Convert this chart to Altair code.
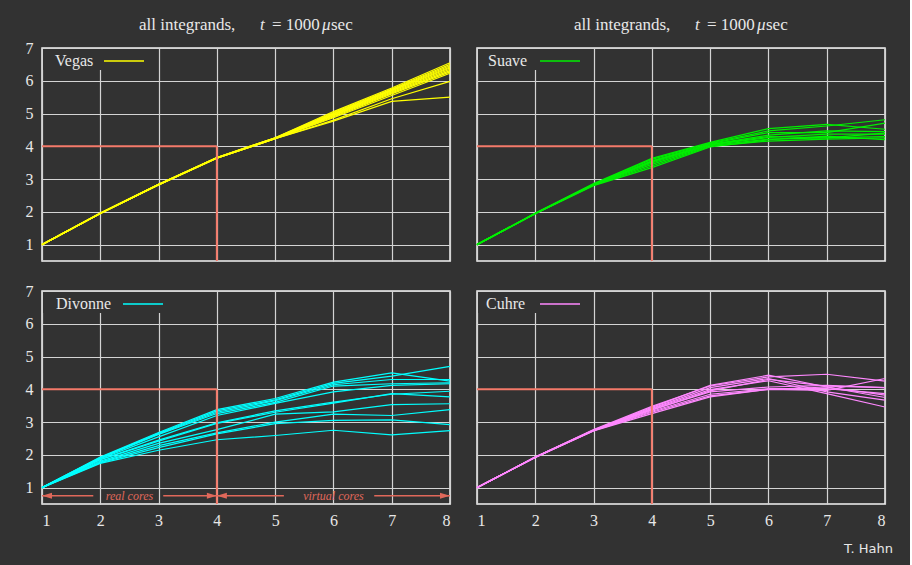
import altair as alt
import pandas as pd

# ---------------------------------------------------------------- data
cores = [1, 2, 3, 4, 5, 6, 7, 8]
y_ticks = [1, 2, 3, 4, 5, 6, 7]

# speed-up per integrand, one list per test integrand (values at 1..8 cores)
vegas = [
    [1, 1.96, 2.84, 3.66, 4.26, 5.06, 5.78, 6.55],
    [1, 1.96, 2.84, 3.66, 4.26, 5.03, 5.75, 6.50],
    [1, 1.96, 2.84, 3.66, 4.25, 5.01, 5.73, 6.46],
    [1, 1.95, 2.83, 3.65, 4.25, 4.99, 5.71, 6.42],
    [1, 1.95, 2.83, 3.65, 4.25, 4.97, 5.69, 6.39],
    [1, 1.95, 2.83, 3.65, 4.24, 4.95, 5.66, 6.35],
    [1, 1.95, 2.83, 3.65, 4.24, 4.93, 5.63, 6.31],
    [1, 1.95, 2.83, 3.64, 4.24, 4.90, 5.60, 6.27],
    [1, 1.95, 2.82, 3.64, 4.23, 4.87, 5.55, 6.23],
    [1, 1.95, 2.82, 3.64, 4.23, 4.80, 5.45, 5.98],
    [1, 1.95, 2.82, 3.64, 4.23, 4.77, 5.37, 5.50],
]
suave = [
    [1, 1.96, 2.86, 3.63, 4.12, 4.54, 4.67, 4.52],
    [1, 1.96, 2.85, 3.60, 4.10, 4.47, 4.62, 4.81],
    [1, 1.95, 2.84, 3.56, 4.08, 4.42, 4.42, 4.71],
    [1, 1.95, 2.84, 3.52, 4.06, 4.34, 4.47, 4.45],
    [1, 1.95, 2.83, 3.49, 4.04, 4.27, 4.37, 4.37],
    [1, 1.95, 2.82, 3.45, 4.02, 4.22, 4.26, 4.30],
    [1, 1.94, 2.81, 3.40, 4.00, 4.16, 4.22, 4.26],
    [1, 1.94, 2.80, 3.35, 3.98, 4.20, 4.31, 4.20],
    [1, 1.95, 2.83, 3.54, 4.05, 4.30, 4.26, 4.40],
]
divonne = [
    [1, 1.93, 2.68, 3.38, 3.72, 4.22, 4.50, 4.25],
    [1, 1.92, 2.66, 3.34, 3.68, 4.18, 4.40, 4.70],
    [1, 1.91, 2.64, 3.30, 3.65, 4.14, 4.30, 4.30],
    [1, 1.90, 2.62, 3.26, 3.60, 4.10, 4.17, 4.20],
    [1, 1.88, 2.55, 3.20, 3.57, 3.92, 4.12, 4.17],
    [1, 1.86, 2.45, 2.98, 3.34, 3.61, 3.85, 3.94],
    [1, 1.85, 2.42, 2.96, 3.30, 3.58, 3.87, 3.77],
    [1, 1.81, 2.35, 2.77, 3.24, 3.31, 3.53, 3.56],
    [1, 1.78, 2.28, 2.67, 3.00, 3.24, 3.20, 3.38],
    [1, 1.76, 2.22, 2.64, 2.95, 3.05, 3.07, 2.92],
    [1, 1.74, 2.14, 2.46, 2.59, 2.75, 2.61, 2.74],
]
cuhre = [
    [1, 1.93, 2.77, 3.48, 4.10, 4.38, 4.46, 4.25],
    [1, 1.93, 2.76, 3.45, 4.12, 4.43, 4.07, 3.82],
    [1, 1.93, 2.76, 3.42, 4.05, 4.33, 3.92, 3.67],
    [1, 1.93, 2.75, 3.40, 3.99, 4.26, 3.87, 3.46],
    [1, 1.93, 2.75, 3.38, 3.92, 4.07, 4.12, 4.05],
    [1, 1.92, 2.74, 3.33, 3.85, 4.02, 4.02, 3.87],
    [1, 1.92, 2.74, 3.30, 3.80, 4.00, 3.97, 4.33],
    [1, 1.92, 2.73, 3.26, 3.77, 4.00, 4.07, 3.75],
    [1, 1.93, 2.75, 3.36, 3.95, 4.30, 4.10, 4.05],
]

# number of real (physical) cores and the ideal speed-up they bound
real_cores = 4

# ---------------------------------------------------------------- style
BG = "#323232"
GRID = "#d4d4d4"
FRAME = "#f4f4f4"
TXT = "#e8e8e8"
SALMON = "#f47a6a"
ARROW = "#e0685a"
SERIF = "Liberation Serif"

W, H = 408, 213
xs = alt.Scale(domain=[1, 8], nice=False, zero=False)
ys = alt.Scale(domain=[0.5, 7], nice=False, zero=False)

one_row = alt.Data(values=[{}])


def long_table(series):
    rows = []
    for k, s in enumerate(series):
        for c, v in zip(cores, s):
            rows.append({"integrand": k, "cores": c, "speedup": v})
    return pd.DataFrame(rows)


def axes(show_x, show_y):
    common = dict(ticks=False, domain=False, grid=True, gridColor=GRID,
                  gridWidth=1.2, labelFont=SERIF, labelFontSize=16,
                  labelColor=TXT, title=None)
    ax = alt.Axis(values=cores, labels=show_x, labelPadding=8, **common)
    ay = alt.Axis(values=y_ticks, labels=show_y, labelPadding=9, **common)
    return ax, ay


def text_piece(txt, x, y, italic=False, size=16, font=SERIF, align="left",
               color=TXT):
    return alt.Chart(one_row).mark_text(
        text=txt, align=align, baseline="alphabetic", font=font,
        fontSize=size, fontStyle="italic" if italic else "normal",
        color=color,
    ).encode(x=alt.value(x), y=alt.value(y))


def panel(series, name, color, legend, show_x, show_y, title=False,
          arrows=False, credit=False):
    ax, ay = axes(show_x, show_y)

    def X(f):
        return alt.X(f, scale=xs, axis=ax)

    def Y(f):
        return alt.Y(f, scale=ys, axis=ay)

    lines = alt.Chart(long_table(series)).mark_line(
        color=color, strokeWidth=1.2
    ).encode(x=X("cores:Q"), y=Y("speedup:Q"), detail="integrand:N")

    ideal = pd.DataFrame({
        "x": [1, real_cores], "x2": [real_cores, real_cores],
        "y": [real_cores, 0.5], "y2": [real_cores, real_cores],
    })
    bound = alt.Chart(ideal).mark_rule(color=SALMON, strokeWidth=2).encode(
        x=X("x:Q"), x2="x2:Q", y=Y("y:Q"), y2="y2:Q")

    tx, lx1, lx2, bw = legend
    box = alt.Chart(one_row).mark_rect(fill=BG).encode(
        x=alt.value(1), x2=alt.value(bw), y=alt.value(1), y2=alt.value(22))
    key_text = text_piece(name, tx, 18)
    key_line = alt.Chart(one_row).mark_rule(color=color, strokeWidth=1.3).encode(
        x=alt.value(lx1), x2=alt.value(lx2), y=alt.value(13))

    layers = [lines, bound, box, key_text, key_line]

    if title:
        by = -18
        layers += [
            text_piece("all integrands,", 97, by, size=17),
            text_piece("t", 218, by, italic=True, size=17),
            text_piece("= 1000", 230, by, size=17),
            text_piece("\u03bc", 280, by, italic=True, size=17),
            text_piece("sec", 289, by, size=17),
        ]

    if arrows:
        seg = pd.DataFrame({
            "a": [1, 3.08, real_cores, 6.70],
            "b": [1.88, real_cores, 5.15, 8],
            "y": [0.75] * 4,
        })
        layers.append(alt.Chart(seg).mark_rule(color=ARROW, strokeWidth=1.5)
                      .encode(x=X("a:Q"), x2="b:Q", y=Y("y:Q")))
        heads = pd.DataFrame({
            "x": [1, real_cores, real_cores, 8],
            "y": [0.75] * 4,
            "dir": ["l", "r", "l", "r"],
        })
        for d, path in [("l", "M0,0 L2,-0.6 L2,0.6 Z"),
                        ("r", "M0,0 L-2,-0.6 L-2,0.6 Z")]:
            layers.append(
                alt.Chart(heads[heads["dir"] == d]).mark_point(
                    shape=path, filled=True, fill=ARROW, strokeWidth=0,
                    size=100, opacity=1)
                .encode(x=X("x:Q"), y=Y("y:Q")))
        lab = pd.DataFrame({"x": [2.5, 6.0], "y": [0.75, 0.75],
                            "t": ["real cores", "virtual cores"]})
        layers.append(
            alt.Chart(lab).mark_text(font=SERIF, fontSize=12,
                                     fontStyle="italic", color=ARROW,
                                     baseline="middle")
            .encode(x=X("x:Q"), y=Y("y:Q"), text="t:N"))

    if credit:
        layers.append(text_piece("T. Hahn", 416, 262, size=13,
                                 font="DejaVu Sans", align="right"))

    return alt.layer(*layers).properties(width=W, height=H)


tl = panel(vegas, "Vegas", "#ffff00", (13, 62, 102, 110), False, True,
           title=True)
tr = panel(suave, "Suave", "#00ee00", (11, 63, 103, 110), False, False,
           title=True)
bl = panel(divonne, "Divonne", "#00ffff", (14, 81, 121, 128), True, True,
           arrows=True)
br = panel(cuhre, "Cuhre", "#ff88ff", (9, 63, 103, 110), True, False,
           credit=True)

chart = alt.vconcat(
    alt.hconcat(tl, tr, spacing=19),
    alt.hconcat(bl, br, spacing=19),
    spacing=19,
).properties(
    background=BG,
    padding={"left": 24, "top": 15, "right": 16, "bottom": 12},
).configure_view(stroke=FRAME, strokeWidth=1.5)

chart.save("out.html", embed_options={"renderer": "svg", "actions": False})
